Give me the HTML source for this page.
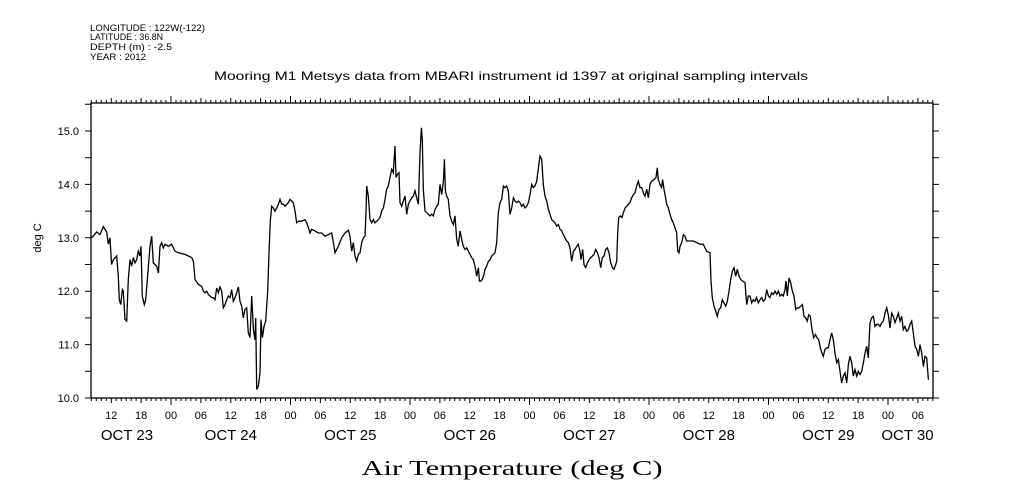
<!DOCTYPE html>
<html><head><meta charset="utf-8"><style>
html,body{margin:0;padding:0;background:#fff;}
svg{display:block;}
text{font-family:"Liberation Sans",sans-serif;fill:#000;}
</style></head><body>
<svg id="chart" width="1009" height="504" viewBox="0 0 1009 504" xmlns="http://www.w3.org/2000/svg">
<g font-size="9">
<text x="90" y="31" textLength="115" lengthAdjust="spacingAndGlyphs">LONGITUDE : 122W(-122)</text>
<text x="90" y="40" textLength="73" lengthAdjust="spacingAndGlyphs">LATITUDE : 36.8N</text>
<text x="90" y="50" textLength="82" lengthAdjust="spacingAndGlyphs">DEPTH (m) : -2.5</text>
<text x="90" y="60" textLength="56" lengthAdjust="spacingAndGlyphs">YEAR : 2012</text>
</g>
<text x="214" y="80" font-size="12" textLength="594" lengthAdjust="spacingAndGlyphs">Mooring M1 Metsys data from MBARI instrument id 1397 at original sampling intervals</text>
<text x="0" y="0" font-size="11" text-anchor="middle" transform="translate(41,238) rotate(-90)">deg C</text>
<text x="512" y="475" font-size="21" textLength="301" lengthAdjust="spacingAndGlyphs" text-anchor="middle" style="font-family:'Liberation Serif',serif">Air Temperature (deg C)</text>
<g id="axes"></g>
<g id="series"></g>
</svg>
<script>
const times=[8.07,9.07,9.74,10.41,11.08,11.41,11.75,12.08,12.42,13.09,13.42,13.62,13.89,14.23,14.43,14.76,15.10,15.43,15.77,16.10,16.44,16.77,17.11,17.44,17.77,17.98,18.24,18.64,18.91,19.45,19.78,20.12,20.45,20.79,21.12,21.46,21.79,22.13,22.46,22.80,23.47,24.14,24.80,25.47,26.81,28.15,28.49,28.82,29.49,30.16,30.50,30.83,31.16,31.50,32.17,32.50,32.84,33.17,33.51,33.84,34.18,34.51,34.85,35.18,35.52,35.85,36.19,36.52,36.86,37.19,37.53,37.86,38.19,38.53,38.86,39.20,39.53,39.87,40.20,40.54,40.87,41.01,41.21,41.54,41.88,42.08,42.35,42.68,43.02,43.42,43.68,43.95,44.22,44.55,44.89,45.22,45.56,45.89,46.23,46.56,46.90,47.57,47.90,48.24,48.57,48.91,49.24,49.58,50.25,50.92,51.25,51.59,51.92,52.25,52.92,53.59,54.26,54.93,55.60,56.27,56.61,56.94,57.61,58.28,58.95,59.62,59.95,60.29,60.62,60.96,61.29,61.63,
61.96,62.29,62.63,62.96,63.17,63.30,63.63,63.97,64.30,64.64,64.97,65.31,65.64,65.98,66.31,66.65,66.98,67.32,67.65,67.99,68.32,68.65,68.99,69.19,69.46,69.79,69.99,70.33,70.66,71.00,71.33,71.67,72.00,72.34,72.67,73.01,73.34,73.68,74.01,74.28,74.48,74.68,75.02,75.35,75.68,76.02,76.35,76.69,77.02,77.36,77.69,78.03,78.36,78.70,78.90,79.10,79.37,79.70,80.04,80.37,80.71,81.04,81.38,81.71,82.05,82.38,82.71,83.05,83.38,83.72,84.05,84.39,84.72,85.06,85.39,85.73,85.93,86.20,86.53,86.87,87.07,87.40,87.74,88.07,88.41,88.74,89.07,89.41,89.74,90.08,90.41,90.75,91.08,91.42,91.75,92.09,92.42,92.76,93.09,93.43,93.76,94.10,94.43,94.77,95.10,95.44,95.77,96.11,96.44,96.77,97.11,97.44,97.78,98.11,98.45,98.78,99.12,99.45,99.79,100.12,100.46,100.79,101.13,101.46,101.80,102.13,102.46,102.80,103.13,103.47,103.80,104.14,104.47,104.81,105.14,105.48,105.81,106.15,106.35,106.68,106.95,107.29,107.62,107.96,108.29,108.63,108.96,109.29,109.63,109.96,110.30,110.63,110.97,111.30,111.64,111.97,112.31,112.64,112.98,113.31,113.51,113.71,113.91,114.25,114.58,114.85,115.19,115.52,115.86,116.19,116.52,116.86,117.19,117.53,117.86,118.20,118.53,118.87,119.20,119.54,119.87,
120.20,120.53,121.00,121.41,121.67,121.87,122.21,122.54,122.74,123.01,123.21,123.55,123.88,124.22,124.55,124.89,125.22,125.56,125.76,126.02,126.23,126.56,126.90,127.23,127.56,128.23,128.90,129.57,130.24,130.91,131.25,131.58,132.25,132.45,132.72,133.05,133.39,133.72,134.06,134.39,134.73,135.06,135.40,135.73,136.07,136.40,136.74,137.07,137.41,137.74,138.08,138.41,138.81,139.28,139.62,139.95,140.29,140.62,140.95,141.29,141.62,141.96,142.29,142.63,142.96,143.30,143.63,143.97,144.30,144.64,144.97,145.31,145.64,145.98,146.31,146.65,146.98,147.31,147.52,147.78,148.12,148.45,148.79,149.12,149.46,149.79,150.13,150.46,150.80,151.13,151.47,151.80,152.07,152.40,152.74,153.07,153.41,153.74,154.08,154.41,154.75,155.01,155.35,155.68,156.02,156.35,156.69,157.02,157.36,157.69,158.03,158.36,158.70,159.03,159.37,159.70,160.04,160.37,160.70,161.04,161.37,161.71,162.04,162.38,162.71,163.05,163.38,163.72,164.05,164.39,164.72,165.06,165.39,165.73,166.06,166.40,166.73,167.07,167.40,167.74,168.07,168.40,168.74,169.07,169.41,169.74,170.08,170.41,170.75,171.08,171.42,171.75,172.09,172.42,172.76,173.09,173.43,173.76,174.10,174.43,174.77,175.10,175.44,175.77,176.11];
const temps=[13.00,13.11,13.06,13.21,13.11,12.88,13.00,12.50,12.59,12.66,12.28,11.84,11.75,12.03,12.00,11.47,11.44,12.22,12.59,12.47,12.63,12.53,12.59,12.75,12.66,12.84,11.91,11.75,11.84,12.44,12.84,13.03,12.53,12.50,12.47,12.34,12.84,12.91,12.81,12.88,12.84,12.88,12.75,12.72,12.69,12.63,12.56,12.22,12.13,12.09,12.00,11.97,12.00,11.94,11.88,11.88,11.84,12.06,11.97,12.08,12.00,11.69,11.75,11.84,11.91,11.88,12.03,11.81,11.88,11.97,12.08,11.81,11.72,11.50,11.66,11.69,11.22,11.13,11.91,11.28,11.09,11.50,10.16,10.22,10.47,11.47,11.13,11.34,11.44,12.00,12.72,13.31,13.59,13.56,13.50,13.56,13.63,13.72,13.63,13.63,13.59,13.66,13.72,13.69,13.66,13.50,13.28,13.31,13.31,13.34,13.28,13.19,13.09,13.16,13.13,13.09,13.09,13.03,13.06,13.09,12.91,12.72,12.84,13.00,13.09,13.14,13.03,12.75,12.91,12.66,12.56,12.69,
12.72,12.91,13.00,13.03,13.47,13.97,13.78,13.34,13.28,13.34,13.28,13.31,13.34,13.38,13.50,13.56,13.72,13.91,13.97,14.13,14.28,14.22,14.72,14.13,14.19,14.22,13.66,13.59,13.69,13.78,13.44,13.63,13.69,13.75,13.78,13.88,13.75,13.63,14.59,15.06,14.84,13.91,13.50,13.47,13.44,13.41,13.44,13.41,13.53,13.59,13.63,14.00,13.81,14.06,14.47,13.88,13.78,13.72,13.41,13.31,13.25,13.41,12.97,12.84,13.13,12.97,12.84,12.78,12.81,12.75,12.69,12.63,12.59,12.47,12.28,12.44,12.19,12.19,12.22,12.31,12.41,12.47,12.56,12.59,12.66,12.69,12.72,12.91,13.47,13.66,13.72,13.97,13.94,13.97,13.88,13.44,13.56,13.75,13.69,13.66,13.69,13.66,13.59,13.63,13.56,13.59,13.66,13.81,14.00,13.94,13.97,14.06,14.31,14.53,14.47,14.00,13.78,13.69,13.53,13.44,13.34,13.31,13.28,13.22,13.25,13.16,13.13,13.06,13.00,12.94,12.91,12.81,12.56,12.75,12.78,12.84,12.88,12.75,12.59,12.78,12.50,12.44,12.53,12.59,12.63,12.66,12.69,12.78,12.72,12.63,12.44,12.63,12.66,12.78,12.81,12.72,12.53,12.44,12.41,12.50,12.56,13.09,13.38,13.41,13.38,13.47,13.56,13.59,13.63,13.66,13.75,13.81,13.84,13.97,14.06,13.94,13.94,13.84,13.78,13.91,13.75,
14.00,14.06,14.09,14.13,14.31,14.09,14.00,13.94,14.09,13.91,13.81,13.63,13.56,13.44,13.34,13.28,13.19,13.09,12.75,12.72,12.84,12.91,13.06,13.03,12.94,12.94,12.94,12.91,12.88,12.88,12.81,12.75,12.72,12.19,11.88,11.72,11.63,11.53,11.66,11.69,11.84,11.78,11.72,11.81,12.00,12.22,12.38,12.44,12.28,12.41,12.28,12.22,12.19,12.16,11.75,11.91,11.91,11.78,11.84,11.81,11.88,11.78,11.84,11.88,11.81,11.84,12.03,11.91,11.88,11.97,11.94,12.00,11.94,12.00,11.91,11.94,11.91,12.03,12.19,11.91,12.25,12.16,12.00,11.91,11.66,11.69,11.69,11.72,11.75,11.53,11.50,11.44,11.56,11.53,11.28,11.13,11.19,11.13,11.09,10.94,10.84,10.78,10.91,10.94,10.94,11.09,11.22,11.09,10.84,10.66,10.72,10.50,10.28,10.41,10.47,10.28,10.63,10.78,10.66,10.41,10.53,10.41,10.50,10.44,10.50,10.66,10.84,10.97,10.75,11.41,11.50,11.53,11.34,11.38,11.38,11.34,11.41,11.44,11.59,11.69,11.56,11.31,11.59,11.53,11.41,11.50,11.59,11.44,11.53,11.28,11.34,11.25,11.28,11.38,11.44,11.22,10.97,10.91,10.78,11.00,10.84,10.59,10.78,10.75,10.34];
const yTickLabels=["10.0","11.0","12.0","13.0","14.0","15.0"];
const hourLabels=["12","18","00","06","12","18","00","06","12","18","00","06","12","18","00","06","12","18","00","06","12","18","00","06","12","18","00","06","12","18","00","06"];
const dateLabels=["OCT 23","OCT 24","OCT 25","OCT 26","OCT 27","OCT 28","OCT 29","OCT 30"];

const NS="http://www.w3.org/2000/svg";
const L=91,R=933,T=103,B=398;
const X0=51.5, PXH=119.5/24;
const xs=h=>X0+h*PXH;
const ys=v=>B-(v-10)*53.4;
const axes=document.getElementById('axes');
const ser=document.getElementById('series');
function mk(tag,attrs,parent){const e=document.createElementNS(NS,tag);for(const k in attrs)e.setAttribute(k,attrs[k]);parent.appendChild(e);return e;}

const frame=mk('rect',{x:L,y:T,width:R-L,height:B-T,fill:'none',stroke:'#000','stroke-width':1.3},axes);



// hourly ticks
let tp='';
const hStart=Math.ceil((L-X0)/PXH), hEnd=Math.floor((R-X0)/PXH);
for(let h=hStart;h<=hEnd;h++){
  const x=xs(h).toFixed(1);
  const len=(h%24===0)?7:(h%6===0?5:3);
  tp+=`M${x},${B}v${len}M${x},${T}v${-len}`;
}
for(let v=10;v<=15.51;v+=0.5){
  const y=ys(v).toFixed(1);
  tp+=`M${L},${y}h-6M${R},${y}h6`;
}
const ticks=mk('path',{d:tp,stroke:'#000','stroke-width':1,fill:'none'},axes);



yTickLabels.forEach((s,i)=>{
  const t=mk('text',{x:79,y:(ys(10+i)+4).toFixed(1),'font-size':11,'text-anchor':'end'},axes);
  t.textContent=s;
  
  
});
let hi=0;
for(let h=Math.ceil((L-X0)/PXH/6)*6;h<=hEnd && hi<hourLabels.length;h+=6){
  const t=mk('text',{x:xs(h).toFixed(1),y:419,'font-size':11,'text-anchor':'middle'},axes);
  t.textContent=hourLabels[hi++];
  
  
}
dateLabels.forEach((s,i)=>{
  let cx=xs(i*24+12);
  if(i===0) cx=(L+xs(24))/2-4;
  if(i===dateLabels.length-1) cx=(xs(i*24)+R)/2-3;
  const t=mk('text',{x:cx.toFixed(1),y:440,'font-size':15,'text-anchor':'middle'},axes);
  t.textContent=s;
  
  
});

let d='';
times.forEach((h,i)=>{d+=(i?'L':'M')+xs(h).toFixed(1)+','+ys(temps[i]).toFixed(1);});
const line=mk('path',{d:d,fill:'none',stroke:'#000','stroke-width':1.3,'stroke-linejoin':'miter'},ser);


</script>
</body></html>
